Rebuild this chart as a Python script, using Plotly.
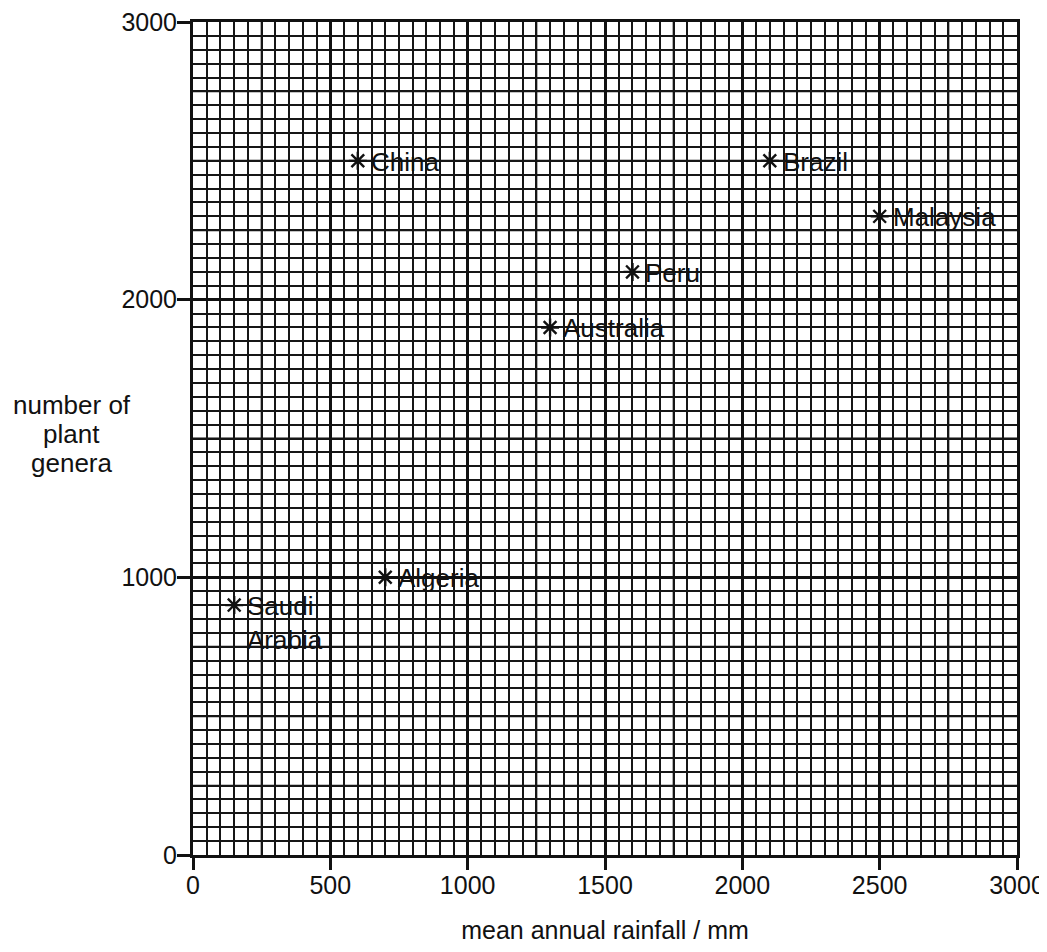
import plotly.graph_objects as go

# Data
countries = ["Saudi Arabia", "Algeria", "China", "Australia", "Peru", "Brazil", "Malaysia"]
labels = ["Saudi<br>Arabia", "Algeria", "China", "Australia", "Peru", "Brazil", "Malaysia"]
rainfall_mm = [150, 700, 600, 1300, 1600, 2100, 2500]
plant_genera = [900, 1000, 2500, 1900, 2100, 2500, 2300]

x_ticks = [0, 500, 1000, 1500, 2000, 2500, 3000]
y_ticks = [0, 1000, 2000, 3000]
y_title_lines = ["number of", "plant", "genera"]

FONT = "Liberation Sans, Arial, sans-serif"
INK = "#111111"

fig = go.Figure()
fig.add_trace(go.Scatter(
    x=rainfall_mm, y=plant_genera, mode="markers",
    marker=dict(symbol="asterisk", size=15, line=dict(width=2.4, color=INK), color=INK),
    hovertext=countries, showlegend=False,
))

annotations = []
for lab, xv, yv in zip(labels, rainfall_mm, plant_genera):
    multi = "<br>" in lab
    annotations.append(dict(
        x=xv, y=yv, xref="x", yref="y", text=lab, showarrow=False,
        xanchor="left", yanchor="top" if multi else "middle",
        xshift=11, yshift=16 if multi else -1,
        align="left", font=dict(family=FONT, size=26, color=INK),
    ))

# y-axis title drawn horizontally, three tightly spaced lines
for i, line in enumerate(y_title_lines):
    annotations.append(dict(
        x=-0.147, y=0.506, xref="paper", yref="paper", yshift=29 * (1 - i),
        text=line, showarrow=False, xanchor="center", yanchor="middle",
        font=dict(family=FONT, size=26, color=INK),
    ))

shapes = []
# medium-weight grid lines of the graph paper
for v in range(0, 3001, 250):
    if v % 500 != 0:
        shapes.append(dict(type="line", xref="x", yref="paper", x0=v, x1=v, y0=0, y1=1,
                           line=dict(color=INK, width=2.0), layer="between"))
for v in range(0, 3001, 250):
    if v % 1000 != 0:
        w = 2.1 if v % 500 == 0 else 1.8
        shapes.append(dict(type="line", xref="paper", yref="y", x0=0, x1=1, y0=v, y1=v,
                           line=dict(color=INK, width=w), layer="between"))

fig.update_layout(
    width=1039, height=936,
    margin=dict(l=185, r=30, t=14, b=89),
    paper_bgcolor="white", plot_bgcolor="white",
    font=dict(family=FONT, size=25, color=INK),
    annotations=annotations, shapes=shapes,
    xaxis=dict(
        range=[0, 3000], tickvals=x_ticks, ticktext=[str(t) for t in x_ticks],
        automargin=False, ticklabeloverflow="allow", ticklabelstandoff=-6,
        ticks="outside", ticklen=12, tickwidth=2.5, tickcolor=INK,
        showline=True, linewidth=3, linecolor=INK, mirror=True,
        showgrid=True, gridcolor=INK, gridwidth=2.7, zeroline=False,
        minor=dict(dtick=50, showgrid=True, gridcolor="#161616", gridwidth=1.5, ticks=""),
        tickfont=dict(family=FONT, size=25, color=INK),
        title=dict(text="mean annual rainfall / mm", standoff=33,
                   font=dict(family=FONT, size=25, color=INK)),
    ),
    yaxis=dict(
        range=[0, 3000], tickvals=y_ticks, ticktext=[str(t) for t in y_ticks],
        automargin=False, ticklabeloverflow="allow", ticklabelstandoff=-5,
        ticks="outside", ticklen=13, tickwidth=2.5, tickcolor=INK,
        showline=True, linewidth=3, linecolor=INK, mirror=True,
        showgrid=True, gridcolor=INK, gridwidth=2.7, zeroline=False,
        minor=dict(dtick=50, showgrid=True, gridcolor="#161616", gridwidth=1.5, ticks=""),
        tickfont=dict(family=FONT, size=25, color=INK),
    ),
)

fig.write_html("out.html")
